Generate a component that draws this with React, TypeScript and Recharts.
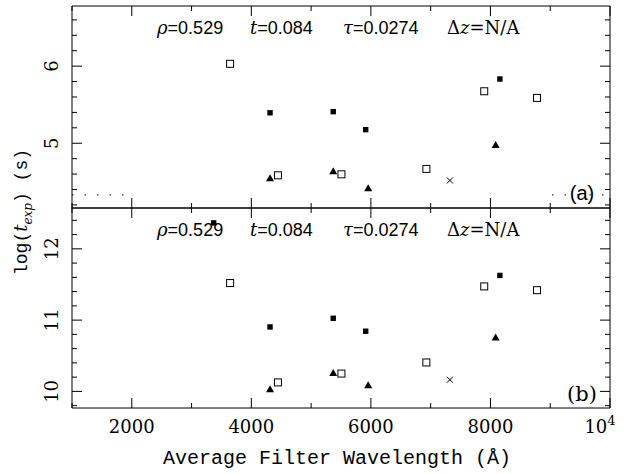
import { ScatterChart, Scatter, XAxis, YAxis, ReferenceLine } from 'recharts'

// shared x positions (Angstrom)
const openSqX = [3645, 4445, 5507, 6928, 7896, 8779]
const filledSqX = [3370, 4313, 5370, 5913, 8158]
const triX = [4313, 5370, 5955, 8087]
const crossX = [7322]

// panel (a)
const openSqA = [6.03, 4.584, 4.597, 4.667, 5.674, 5.588]
const filledSqA = [null, 5.395, 5.41, 5.176, 5.833]
const triA = [4.55, 4.64, 4.42, 4.98]
const crossA = [4.517]

// panel (b)
const openSqB = [11.52, 10.126, 10.25, 10.406, 11.473, 11.42]
const filledSqB = [12.364, 10.904, 11.026, 10.844, 11.627]
const triB = [10.033, 10.26, 10.09, 10.76]
const crossB = [10.163]

const xTicks = [1000, 2000, 3000, 4000, 5000, 6000, 7000, 8000, 9000, 10000]
const xLabels = [2000, 4000, 6000, 8000]
const yTicksA = [4.2, 4.4, 4.6, 4.8, 5, 5.2, 5.4, 5.6, 5.8, 6, 6.2, 6.4, 6.6]
const yTicksB = [9.8, 10, 10.2, 10.4, 10.6, 10.8, 11, 11.2, 11.4, 11.6, 11.8, 12, 12.2, 12.4]
const domainA = [4.16, 6.78]
const domainB = [9.767, 12.573]
const dottedY = 4.33
const dottedLeft = [1000, 1870]
const dottedRight = [9030, 10000]

const W = 631
const H = 474
const LEFT = 72
const RIGHT = 610
const TOP = 6
const MID = 208
const BOTTOM = 408

const serif = '"DejaVu Serif", serif'
const sans = '"Liberation Sans", sans-serif'
const mono = '"Liberation Mono", monospace'

const pts = (xs: number[], ys: (number | null)[]) =>
  xs.map((x, i) => ({ x, y: ys[i] })).filter((p) => p.y != null)

const isInt = (v: number) => Math.abs(v - Math.round(v)) < 1e-6

const OpenSquare = (p: any) => (
  <rect x={p.cx - 3.5} y={p.cy - 3.5} width={7} height={7} fill="#fff" stroke="#000" strokeWidth={1} />
)
const FilledSquare = (p: any) => (
  <rect x={p.cx - 2.7} y={p.cy - 2.7} width={5.4} height={5.4} fill="#000" />
)
const Triangle = (p: any) => (
  <path d={`M${p.cx - 4},${p.cy + 3.2} L${p.cx + 4},${p.cy + 3.2} L${p.cx},${p.cy - 3.8} Z`} fill="#000" />
)
const Cross = (p: any) => (
  <path d={`M${p.cx - 3},${p.cy - 3} L${p.cx + 3},${p.cy + 3} M${p.cx - 3},${p.cy + 3} L${p.cx + 3},${p.cy - 3}`} stroke="#000" strokeWidth={1} />
)

// ticks point inwards; labels drawn outside
const LeftTick = (p: any) => {
  const v = p.payload.value
  const big = isInt(v)
  const lx = LEFT - 20
  return (
    <g>
      <line x1={LEFT} x2={LEFT + (big ? 10 : 5)} y1={p.y} y2={p.y} stroke="#000" />
      {big && (
        <text
          x={lx}
          y={p.y}
          transform={`rotate(-90 ${lx} ${p.y})`}
          textAnchor="middle"
          dominantBaseline="central"
          fontFamily={serif}
          fontSize={18}
          fill="#000"
        >
          {v}
        </text>
      )}
    </g>
  )
}
const RightTick = (p: any) => {
  const big = isInt(p.payload.value)
  return <line x1={RIGHT} x2={RIGHT - (big ? 10 : 5)} y1={p.y} y2={p.y} stroke="#000" />
}
const TopTick = (top: number) => (p: any) => {
  const big = p.payload.value % 2000 === 0
  return <line x1={p.x} x2={p.x} y1={top} y2={top + (big ? 10 : 5)} stroke="#000" />
}
const BottomTick = (bottom: number, labels: boolean) => (p: any) => {
  const v = p.payload.value
  const big = v % 2000 === 0
  return (
    <g>
      <line x1={p.x} x2={p.x} y1={bottom} y2={bottom - (big ? 10 : 5)} stroke="#000" />
      {labels && xLabels.includes(v) && (
        <text x={p.x} y={bottom + 25} textAnchor="middle" fontFamily={serif} fontSize={18} fill="#000">
          {v}
        </text>
      )}
      {labels && v === 10000 && (
        <text x={p.x - 10} y={bottom + 25} textAnchor="middle" fontFamily={serif} fontSize={18} fill="#000">
          10<tspan dy={-8} fontSize={13}>4</tspan>
        </text>
      )}
    </g>
  )
}

const Params = ({ y }: { y: number }) => (
  <text x={157} y={y} fontSize={18} fill="#000" fontFamily={serif}>
    <tspan fontStyle="italic">ρ</tspan>
    <tspan fontFamily={sans}>=0.529</tspan>
    <tspan x={250} fontStyle="italic">t</tspan>
    <tspan fontFamily={sans}>=0.084</tspan>
    <tspan x={343} fontStyle="italic">τ</tspan>
    <tspan fontFamily={sans}>=0.0274</tspan>
    <tspan x={447}>Δ</tspan>
    <tspan fontStyle="italic">z</tspan>
    <tspan>=N/A</tspan>
  </text>
)

function Panel({ domain, ticks, top, bottom, showLabels, open, filled, tri, cross, dotted }: any) {
  return (
    <div style={{ position: 'absolute', left: 0, top: 0 }}>
      <ScatterChart
        width={W}
        height={H}
        margin={{ top: top - 1, bottom: H - bottom - 1, left: LEFT - 1, right: W - RIGHT - 1 }}
      >
        <XAxis
          xAxisId="b"
          dataKey="x"
          type="number"
          domain={[1000, 10000]}
          ticks={xTicks}
          interval={0}
          height={1}
          tickSize={0}
          tickMargin={0}
          tickLine={false}
          tick={BottomTick(bottom, showLabels)}
          axisLine={{ stroke: '#000' }}
          allowDataOverflow
        />
        <XAxis
          xAxisId="t"
          orientation="top"
          dataKey="x"
          type="number"
          domain={[1000, 10000]}
          ticks={xTicks}
          interval={0}
          height={1}
          tickSize={0}
          tickMargin={0}
          tickLine={false}
          tick={TopTick(top)}
          axisLine={{ stroke: '#000' }}
          allowDataOverflow
        />
        <YAxis
          yAxisId="l"
          dataKey="y"
          type="number"
          domain={domain}
          ticks={ticks}
          interval={0}
          width={1}
          tickSize={0}
          tickMargin={0}
          tickLine={false}
          tick={LeftTick}
          axisLine={{ stroke: '#000' }}
          allowDataOverflow
        />
        <YAxis
          yAxisId="r"
          orientation="right"
          dataKey="y"
          type="number"
          domain={domain}
          ticks={ticks}
          interval={0}
          width={1}
          tickSize={0}
          tickMargin={0}
          tickLine={false}
          tick={RightTick}
          axisLine={{ stroke: '#000' }}
          allowDataOverflow
        />
        {dotted && (
          <ReferenceLine
            xAxisId="b"
            yAxisId="l"
            segment={[
              { x: dottedLeft[0], y: dottedY },
              { x: dottedLeft[1], y: dottedY },
            ]}
            stroke="#000"
            strokeDasharray="1.5 11"
          />
        )}
        {dotted && (
          <ReferenceLine
            xAxisId="b"
            yAxisId="l"
            segment={[
              { x: dottedRight[0], y: dottedY },
              { x: dottedRight[1], y: dottedY },
            ]}
            stroke="#000"
            strokeDasharray="1.5 11"
          />
        )}
        <Scatter xAxisId="b" yAxisId="l" data={open} shape={OpenSquare} isAnimationActive={false} />
        <Scatter xAxisId="b" yAxisId="l" data={filled} shape={FilledSquare} isAnimationActive={false} />
        <Scatter xAxisId="b" yAxisId="l" data={tri} shape={Triangle} isAnimationActive={false} />
        <Scatter xAxisId="b" yAxisId="l" data={cross} shape={Cross} isAnimationActive={false} />
      </ScatterChart>
    </div>
  )
}

export default function App() {
  return (
    <div style={{ position: 'absolute', left: 0, top: 0, width: W, height: H, background: '#fff' }}>
      <Panel
        domain={domainA}
        ticks={yTicksA}
        top={TOP}
        bottom={MID}
        showLabels={false}
        open={pts(openSqX, openSqA)}
        filled={pts(filledSqX, filledSqA)}
        tri={pts(triX, triA)}
        cross={pts(crossX, crossA)}
        dotted
      />
      <Panel
        domain={domainB}
        ticks={yTicksB}
        top={MID}
        bottom={BOTTOM}
        showLabels
        open={pts(openSqX, openSqB)}
        filled={pts(filledSqX, filledSqB)}
        tri={pts(triX, triB)}
        cross={pts(crossX, crossB)}
        dotted={false}
      />
      <svg width={W} height={H} style={{ position: 'absolute', left: 0, top: 0, pointerEvents: 'none' }}>
        <Params y={34} />
        <Params y={236} />
        <text x={582} y={200} textAnchor="middle" fontFamily={sans} fontSize={20} fill="#000">
          (a)
        </text>
        <text x={582} y={401} textAnchor="middle" fontFamily={serif} fontSize={21} fill="#000">
          (b)
        </text>
        <text x={337} y={464} textAnchor="middle" fontFamily={mono} fontSize={20} fill="#000">
          Average Filter Wavelength (Å)
        </text>
        <text
          x={27}
          y={212}
          transform="rotate(-90 27 212)"
          textAnchor="middle"
          fontFamily={mono}
          fontSize={18}
          fill="#000"
        >
          log(<tspan fontFamily={serif} fontStyle="italic">t</tspan>
          <tspan dy={5} fontSize={12} fontFamily={serif} fontStyle="italic">exp</tspan>
          <tspan dy={-5}>) (s)</tspan>
        </text>
      </svg>
    </div>
  )
}
